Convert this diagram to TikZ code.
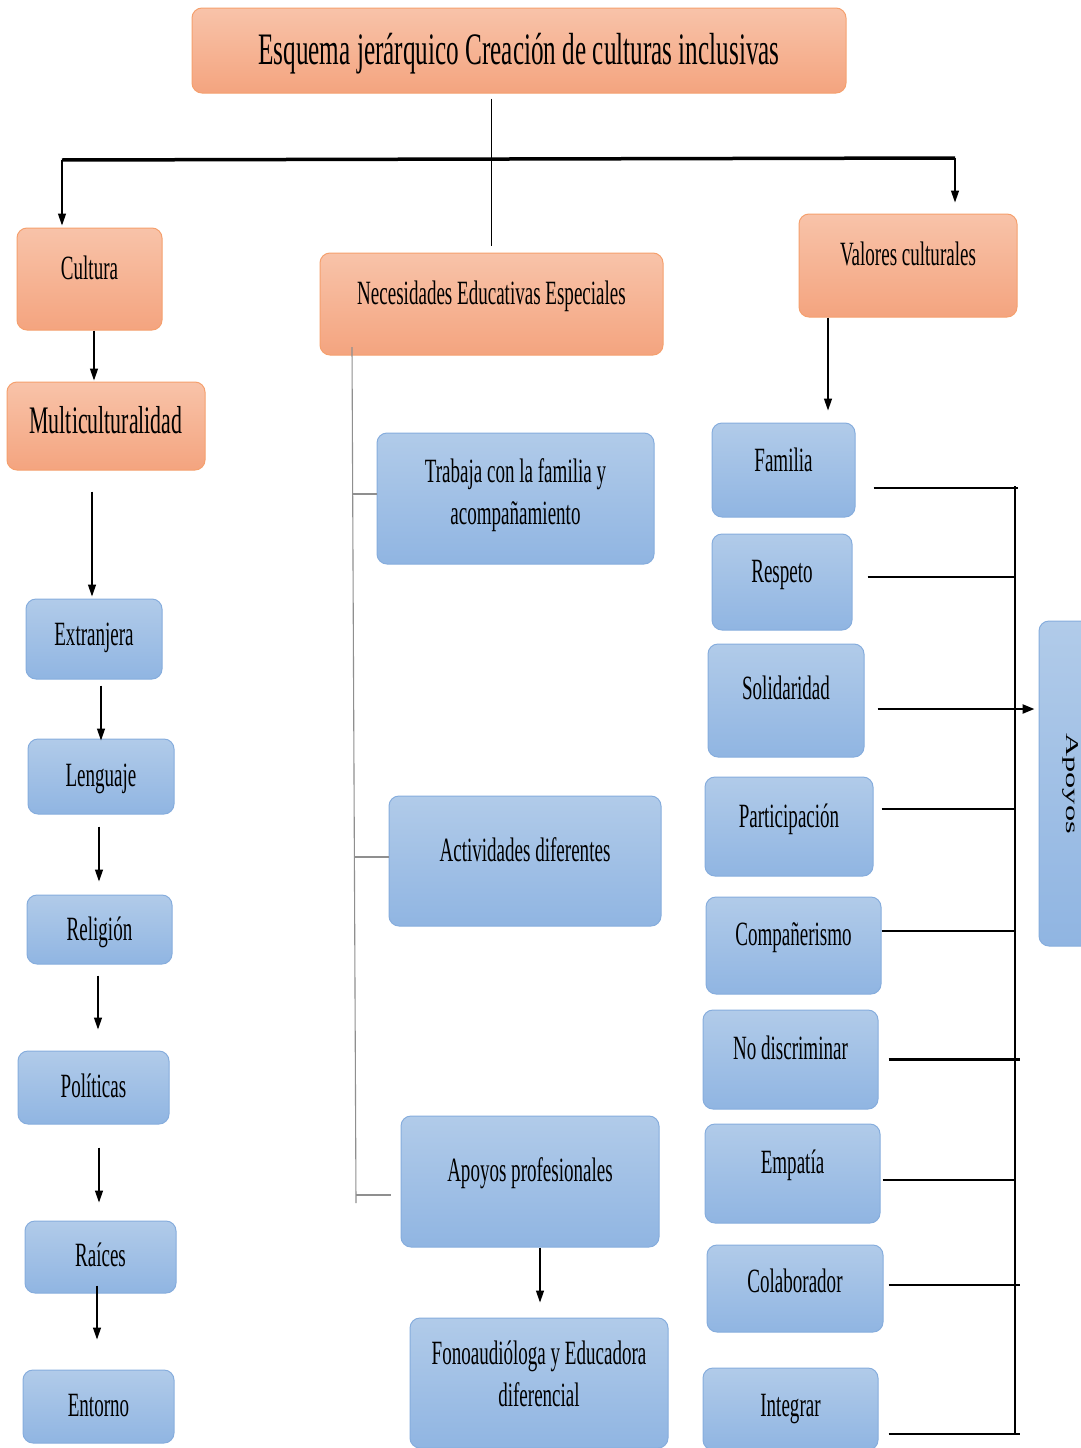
\documentclass[tikz,border=0pt]{standalone}
\usepackage{fontspec}
\setmainfont{Liberation Serif}[FakeStretch=0.56]
\newfontfamily\apfont{Liberation Serif}
\usetikzlibrary{arrows.meta,calc}
\definecolor{orT}{HTML}{F8C3A9}
\definecolor{orB}{HTML}{F4A47F}
\definecolor{orD}{HTML}{F5A06E}
\definecolor{blT}{HTML}{B1CBE9}
\definecolor{blB}{HTML}{90B5E2}
\definecolor{blD}{HTML}{86ADDD}
\definecolor{gline}{HTML}{8F8F8F}
\begin{document}
\begin{tikzpicture}[x=1pt,y=-1pt,
 box/.style={rounded corners=10pt, line width=1pt, inner sep=0pt, align=center, font=\fontsize{34}{42}\selectfont},
 obox/.style={box, draw=orD, top color=orT, bottom color=orB},
 bbox/.style={box, draw=blD, top color=blT, bottom color=blB},
 lift/.style={text height=22.5pt, text depth=#1},
 sz/.style 2 args={minimum width=#1, minimum height=#2},
 arr/.style={line width=1.3pt, -{Triangle[length=12pt,width=8pt]}},
 busl/.style={line width=2.6pt},
 gv/.style={draw=gline, line width=1.1pt},
 gt/.style={draw=gline, line width=2.4pt}]
\fill[white] (0,0) rectangle (1081,1448);
\useasboundingbox (0,0) rectangle (1081,1448);

% ---------- top ----------
\node[obox, sz={654pt}{85pt}, font=\fontsize{45}{54}\selectfont, text height=29.7pt, text depth=1pt] (title) at (519,50.5) {Esquema jerárquico Creación de culturas inclusivas};

\node[obox, sz={145pt}{102pt}, lift=22pt] (cul) at (89.5,279) {Cultura};
\node[obox, sz={343pt}{102pt}, lift=22pt] (nee) at (491.5,304) {Necesidades Educativas Especiales};
\node[obox, sz={218pt}{103pt}, lift=23pt] (val) at (908,265.5) {Valores culturales};
\node[obox, sz={198pt}{88pt}, font=\fontsize{39}{47}\selectfont, text height=25.5pt, text depth=10pt] (mul) at (106,426) {Multiculturalidad};

\coordinate (hl) at (62,160);
\coordinate (hr) at (955,158);
\draw[line width=1.2pt] ([yshift=-5pt]title.south -| nee.north) -- ([yshift=7pt]nee.north);
\draw[line width=3.5pt] (hl) -- (hr);
\draw[arr] (hl) -- ([yshift=2pt]hl |- cul.north);
\draw[arr] (hr) -- ([yshift=11pt]hr |- val.north);

% ---------- left column ----------
\node[bbox, sz={136pt}{80pt}, lift=10pt] (ext) at (94,639) {Extranjera};
\node[bbox, sz={146pt}{75pt}, lift=3pt] (len) at (101,776.5) {Lenguaje};
\node[bbox, sz={145pt}{69pt}, lift=0pt] (rel) at (99.5,929.5) {Religión};
\node[bbox, sz={151pt}{73pt}, lift=3pt] (pol) at (93.5,1087.5) {Políticas};
\node[bbox, sz={151pt}{72pt}, lift=4pt] (rai) at (100.5,1257) {Raíces};
\node[bbox, sz={151pt}{73pt}, lift=3pt] (ent) at (98.5,1406.5) {Entorno};

\draw[arr] ($(cul.south)+(4.5pt,0pt)$) -- ($(mul.north)+(-12pt,1pt)$);
\draw[arr] ($(mul.south)+(-14pt,-21pt)$) -- ($(ext.north)+(-2pt,2pt)$);
\draw[arr] ($(ext.south)+(7pt,-6pt)$) -- ($(len.north)+(0pt,-2pt)$);
\draw[arr] ($(len.south)+(-2pt,-12pt)$) -- ($(rel.north)+(-0.5pt,13pt)$);
\draw[arr] ($(rel.south)+(-1.5pt,-11pt)$) -- ($(pol.north)+(4.5pt,21pt)$);
\draw[arr] ($(pol.south)+(5.5pt,-23pt)$) -- ($(rai.north)+(-1.5pt,18pt)$);
\draw[arr] ($(rai.south)+(-3.5pt,8pt)$) -- ($(ent.north)+(-1.5pt,30pt)$);

% ---------- middle column ----------
\node[bbox, sz={277pt}{131pt}, text depth=13pt] (tra) at (515.5,498.5) {Trabaja con la familia y\\acompañamiento};
\node[bbox, sz={272pt}{130pt}, lift=22pt] (act) at (525,861) {Actividades diferentes};
\node[bbox, sz={258pt}{131pt}, lift=23pt] (apr) at (530,1181.5) {Apoyos profesionales};
\node[bbox, sz={258pt}{130pt}, text depth=18pt] (fon) at (539,1383) {Fonoaudióloga y Educadora\\diferencial};

\coordinate (gtop) at (352,347);
\coordinate (gbot) at (356,1203);
\draw[gv] (gtop) -- (gbot);
\draw[gt] (352,494) -- (tra.west |- 0,494);
\draw[gt] (355,857) -- (act.west |- 0,857);
\draw[gt] (356,1195) -- ([xshift=-10pt]apr.west |- 0,1195);
\draw[arr] ($(apr.south)+(10pt,0pt)$) -- ($(fon.north)+(1pt,15pt)$);

% ---------- right column ----------
\node[bbox, sz={143pt}{94pt}, lift=20pt] (fam) at (783.5,470) {Familia};
\node[bbox, sz={140pt}{96pt}, lift=22pt] (res) at (782,582) {Respeto};
\node[bbox, sz={156pt}{113pt}, lift=25pt] (sol) at (786,700.5) {Solidaridad};
\node[bbox, sz={168pt}{99pt}, lift=21pt] (par) at (789,826.5) {Participación};
\node[bbox, sz={175pt}{97pt}, lift=23pt] (com) at (793.5,945.5) {Compañerismo};
\node[bbox, sz={175pt}{99pt}, lift=23pt] (nod) at (790.5,1059.5) {No discriminar};
\node[bbox, sz={175pt}{99pt}, lift=23pt] (emp) at (792.5,1173.5) {Empatía};
\node[bbox, sz={176pt}{87pt}, lift=15pt] (col) at (795,1288.5) {Colaborador};
\node[bbox, sz={175pt}{82pt}, lift=8pt] (int) at (790.5,1409) {Integrar};
\node[bbox, sz={64pt}{325pt}, font=\apfont\fontsize{18}{22}\selectfont] (apo) at (1071,783.5) {\rotatebox{-90}{\scalebox{1.8}[1]{\raisebox{0pt}[12.6pt][4pt]{Apoyos}}}};

\draw[arr] ($(val.south)+(-80pt,0pt)$) -- ($(fam.north)+(44.5pt,12pt)$);

\coordinate (busT) at (1015,486);
\coordinate (busB) at (1015,1434);
\draw[busl] (busT) -- (busB);
\coordinate (famS) at ($(fam.east)+(18pt,-18pt)$);
\coordinate (resS) at ($(res.east)+(15pt,5pt)$);
\coordinate (solS) at ($(sol.east)+(13pt,-8.5pt)$);
\coordinate (parS) at ($(par.east)+(8pt,17.5pt)$);
\coordinate (comS) at ($(com.east)+(0pt,14.5pt)$);
\coordinate (nodS) at ($(nod.east)+(10pt,0pt)$);
\coordinate (empS) at ($(emp.east)+(2pt,-6.5pt)$);
\coordinate (colS) at ($(col.east)+(5pt,3.5pt)$);
\coordinate (intS) at ($(int.east)+(10pt,-25pt)$);
\draw[busl] (famS) -- ([xshift=3pt]famS -| busT);
\draw[busl] (resS) -- (resS -| busT);
\draw[busl] (parS) -- (parS -| busT);
\draw[busl] (comS) -- (comS -| busT);
\draw[busl] (nodS) -- ([xshift=5pt]nodS -| busT);
\draw[busl] (empS) -- (empS -| busT);
\draw[busl] (colS) -- ([xshift=5pt]colS -| busT);
\draw[busl] (intS) -- ([xshift=5pt]intS -| busT);
\draw[line width=2.4pt, -{Triangle[length=12pt,width=9pt]}] (solS) -- ([xshift=-4pt]solS -| apo.west);
\end{tikzpicture}
\end{document}
